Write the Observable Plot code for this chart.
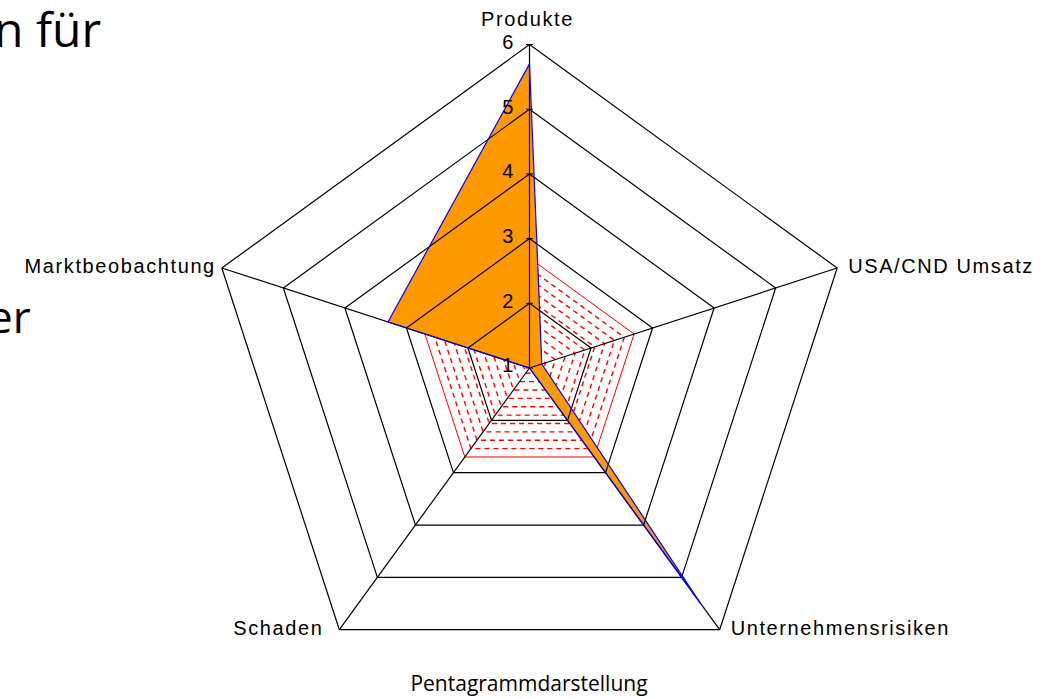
<!DOCTYPE html>
<html><head><meta charset="utf-8">
<script src="https://cdn.jsdelivr.net/npm/d3@7"></script>
<script src="https://cdn.jsdelivr.net/npm/@observablehq/plot@0.6"></script>
<style>
body{margin:0;background:#fff;overflow:hidden}
#wrap{position:relative;width:1054px;height:699px;background:#fff}
#wrap svg{display:block;position:absolute;left:0;top:0}
.bg{position:absolute;font-family:"Open Sans";color:#000;line-height:1;white-space:nowrap}
#cap{position:absolute;left:0;width:1058px;text-align:center;font-family:"Open Sans";font-size:21px;line-height:1;top:673px;color:#000}
</style></head><body>
<div id="wrap">
  <div class="bg" style="left:-6px;top:5px;font-size:48px">n für</div>
  <div class="bg" style="left:-12px;top:294px;font-size:44px">er</div>
  <div id="cap">Pentagrammdarstellung</div>
</div>
<script>
// ---- data ----
const axes = ["Produkte", "USA/CND Umsatz", "Unternehmensrisiken", "Schaden", "Marktbeobachtung"];
const istWerte = [5.7, 1.2, 5.5, 1.0, 3.3];      // orange series
const zielWerte = [2.7, 2.7, 2.7, 2.7, 2.7];     // red hatched series
const levels = [1, 2, 3, 4, 5, 6];
const tickLabels = ["1", "2", "3", "4", "5", "6"];

// ---- geometry ----
const W = 1054, H = 699, CX = 529, CY = 367.5, K = 64.7;
const rMin = 1, rMax = 6;
function pt(i, v) {
  const a = i * 2 * Math.PI / axes.length;
  const r = v - rMin;
  return {x: r * Math.sin(a), y: r * Math.cos(a)};
}
function poly(values, key) {
  return [...values.map((v, i) => ({...pt(i, v), key})), {...pt(0, values[0]), key}];
}

const rings = levels.slice(1).flatMap(l => poly(axes.map(() => l), l));
const spokes = axes.map((a, i) => ({a, ...pt(i, rMax)}));
const ist = poly(istWerte, "ist");
const ziel = poly(zielWerte, "ziel");
// hatch pattern emulation: concentric dashed outlines inside the target polygon
const hatchStep = 0.16;
const hatch = d3.range(1, 12).map(k => k * hatchStep)
  .filter(s => zielWerte[0] - s > rMin + 0.04)
  .flatMap((s, j) => poly(zielWerte.map(v => v - s), j));

const font = "Liberation Sans, Arial, sans-serif";
function labelMark(idx, anchor, dx, dy) {
  return Plot.text(idx.map(i => ({t: axes[i], ...pt(i, rMax)})), {
    x: "x", y: "y", text: "t", textAnchor: anchor, dx, dy,
    fontSize: 20, fontFamily: font, fill: "#000"
  });
}

const chart = Plot.plot({
  width: W, height: H, margin: 0,
  style: {letterSpacing: "1.6px", background: "transparent", overflow: "visible"},
  x: {domain: [-CX / K, (W - CX) / K], axis: null},
  y: {domain: [-(H - CY) / K, CY / K], axis: null},
  marks: [
    Plot.line(hatch, {x: "x", y: "y", z: "key", stroke: "#ff0000", strokeWidth: 1.4, strokeDasharray: "5,4", strokeLinecap: "butt", strokeLinejoin: "miter"}),
    Plot.line(ziel, {x: "x", y: "y", stroke: "#ff0000", strokeWidth: 1, strokeLinejoin: "miter"}),
    Plot.line(ist, {x: "x", y: "y", fill: "#ff9900", stroke: "none"}),
    Plot.line(rings, {x: "x", y: "y", z: "key", stroke: "#000", strokeWidth: 1.2, strokeLinejoin: "miter"}),
    Plot.link(spokes, {x1: () => 0, y1: () => 0, x2: "x", y2: "y", stroke: "#000", strokeWidth: 1.2}),
    Plot.link(levels, {x1: () => -0.055, x2: () => 0.055, y1: l => l - rMin, y2: l => l - rMin, stroke: "#000", strokeWidth: 1}),
    Plot.line(ist, {x: "x", y: "y", stroke: "#0000ff", strokeWidth: 1.2, strokeLinejoin: "miter"}),
    Plot.text(levels, {x: () => 0, y: l => l - rMin, text: (l, i) => tickLabels[i], dx: -21, dy: -2, fontSize: 20, fontFamily: font, fill: "#000"}),
    labelMark([0], "middle", -2, -25),
    labelMark([1, 2], "start", 11, -1),
    labelMark([3], "end", -16, -1),
    labelMark([4], "end", -6, -1)
  ]
});
document.getElementById("wrap").prepend(chart);
</script>
</body></html>
